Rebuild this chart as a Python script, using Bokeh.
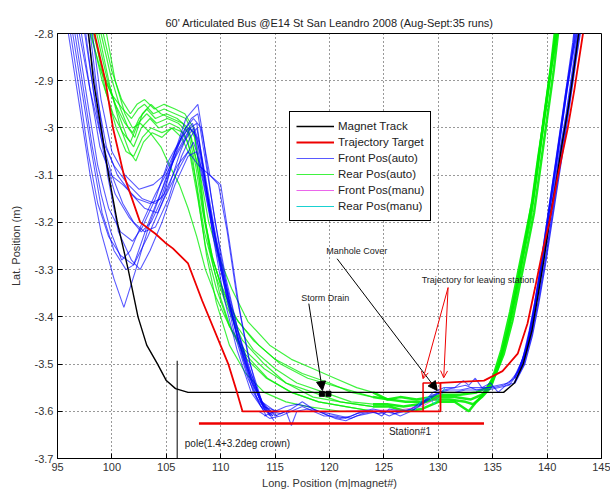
from bokeh.plotting import figure
from bokeh.models import FixedTicker, Label, Arrow, NormalHead, OpenHead, Legend, LegendItem, Range1d
from bokeh.embed import file_html
from bokeh.resources import INLINE

FONT = "Liberation Sans"

# ---------------- axes ----------------
x_ticks = [95, 100, 105, 110, 115, 120, 125, 130, 135, 140, 145]
x_tick_labels = ["95", "100", "105", "110", "115", "120", "125", "130", "135", "140", "145"]
y_ticks = [-3.7, -3.6, -3.5, -3.4, -3.3, -3.2, -3.1, -3.0, -2.9, -2.8]
y_tick_labels = ["-3.7", "-3.6", "-3.5", "-3.4", "-3.3", "-3.2", "-3.1", "-3", "-2.9", "-2.8"]

# ---------------- magnet track / target ----------------
magnet_x = [97.85, 98.3, 99.0, 99.7, 100.5, 101.5, 102.4, 103.2, 104.2, 105.0, 105.85, 107.0, 136.0, 137.0, 137.8, 138.6, 139.2, 139.7, 140.2, 140.8, 141.4, 142.0, 142.5, 142.9]
magnet_y = [-2.8, -2.9, -3.0, -3.1, -3.2, -3.3, -3.4, -3.46, -3.5, -3.535, -3.552, -3.56, -3.56, -3.54, -3.5, -3.43, -3.35, -3.28, -3.2, -3.12, -3.03, -2.95, -2.87, -2.8]

target_x = [98.4, 99.4, 100.1, 101.1, 102.6, 104.0, 104.9, 105.6, 107.0, 108.3, 110.7, 111.5, 112.0, 130.2, 130.2, 134.2, 135.9, 137.3, 138.2, 138.9, 139.5, 140.2, 141.0, 141.9, 142.5, 143.3]
target_y = [-2.8, -2.9, -3.0, -3.1, -3.2, -3.224, -3.243, -3.255, -3.287, -3.366, -3.5, -3.56, -3.6, -3.6, -3.54, -3.535, -3.515, -3.478, -3.414, -3.338, -3.27, -3.2, -3.1, -3.0, -2.92, -2.8]

leave_x = [128.6, 128.6, 130.2]
leave_y = [-3.6, -3.54, -3.54]

station_x = [108.0, 134.2]
station_y = [-3.626, -3.626]

pole_x = [106.0, 106.0]
pole_y = [-3.493, -3.7]

# ---------------- front position (auto) runs ----------------
f1_x = [96.0, 97.0, 98.0, 99.0, 100.2, 101.1, 102.2, 103.5, 104.8, 106.0, 107.2, 107.8, 108.6, 109.5, 110.5, 111.6, 112.8, 113.8, 114.8]
f1_y = [-2.8, -2.95, -3.1, -3.22, -3.32, -3.38, -3.3, -3.2, -3.12, -3.05, -3.0, -3.02, -3.12, -3.23, -3.33, -3.43, -3.52, -3.58, -3.61]
f2_x = [96.4, 97.3, 98.2, 99.1, 100.2, 101.3, 102.0, 103.2, 104.6, 105.8, 107.0, 107.6, 108.4, 109.3, 110.3, 111.4, 112.6, 113.8, 115.0]
f2_y = [-2.8, -2.93, -3.06, -3.18, -3.26, -3.3, -3.29, -3.21, -3.13, -3.05, -3.0, -3.01, -3.11, -3.22, -3.32, -3.42, -3.51, -3.58, -3.6]
f3_x = [96.8, 97.8, 98.7, 99.7, 100.8, 101.9, 102.8, 104.0, 105.2, 106.4, 107.4, 108.0, 108.8, 109.7, 110.7, 111.8, 113.0, 114.2]
f3_y = [-2.8, -2.95, -3.08, -3.17, -3.22, -3.24, -3.21, -3.15, -3.07, -3.02, -2.99, -3.03, -3.14, -3.26, -3.37, -3.47, -3.56, -3.61]
f4_x = [97.2, 98.0, 98.9, 99.9, 101.0, 102.3, 103.5, 104.5, 105.5, 106.5, 107.3, 107.9, 108.6, 109.5, 110.5, 111.7, 112.9, 114.1]
f4_y = [-2.8, -2.92, -3.04, -3.1, -3.12, -3.15, -3.16, -3.15, -3.08, -3.01, -2.98, -2.97, -3.07, -3.2, -3.32, -3.44, -3.54, -3.6]
f5_x = [97.5, 98.3, 99.2, 100.2, 101.5, 102.8, 104.0, 104.8, 105.8, 106.8, 107.9, 108.4, 109.1, 110.0, 111.0, 112.1, 113.3, 114.5]
f5_y = [-2.8, -2.92, -3.03, -3.08, -3.12, -3.15, -3.16, -3.14, -3.05, -2.98, -2.95, -3.02, -3.14, -3.27, -3.39, -3.49, -3.57, -3.61]
f6_x = [97.6, 98.4, 99.3, 100.3, 101.6, 102.7, 103.6, 104.8, 106.0, 107.0, 108.0, 109.0, 109.8, 110.6, 111.5, 112.5, 113.5, 114.6]
f6_y = [-2.8, -2.94, -3.06, -3.14, -3.19, -3.22, -3.2, -3.14, -3.08, -3.05, -3.08, -3.1, -3.12, -3.22, -3.36, -3.48, -3.57, -3.61]
f7_x = [98.0, 98.8, 99.6, 100.6, 101.8, 102.6, 103.5, 104.6, 105.8, 107.0, 107.8, 108.6, 109.5, 110.5, 111.6, 112.8, 114.0, 115.2]
f7_y = [-2.8, -2.95, -3.1, -3.22, -3.28, -3.3, -3.26, -3.2, -3.12, -3.06, -3.05, -3.14, -3.25, -3.35, -3.45, -3.53, -3.59, -3.61]
f8_x = [96.2, 97.0, 97.8, 98.7, 99.7, 100.8, 102.0, 103.3, 104.8, 106.3, 107.5, 108.3, 109.2, 110.2, 111.3, 112.5, 113.7, 114.9]
f8_y = [-2.8, -2.92, -3.05, -3.16, -3.23, -3.27, -3.29, -3.23, -3.15, -3.08, -3.03, -3.09, -3.2, -3.31, -3.42, -3.51, -3.58, -3.62]
f9_x = [97.0, 98.0, 99.0, 100.0, 101.0, 102.0, 103.0, 104.0, 105.2, 106.4, 107.2, 107.8, 108.5, 109.4, 110.4, 111.5, 112.7, 113.9, 115.2]
f9_y = [-2.8, -2.92, -3.02, -3.1, -3.16, -3.2, -3.22, -3.21, -3.15, -3.06, -3.02, -3.0, -3.09, -3.21, -3.33, -3.44, -3.53, -3.59, -3.6]
f10_x = [98.2, 99.0, 100.0, 101.2, 102.5, 103.8, 104.8, 105.8, 106.8, 107.5, 108.2, 109.0, 110.0, 110.8, 111.7, 112.7, 113.8, 115.0]
f10_y = [-2.8, -2.94, -3.05, -3.1, -3.13, -3.12, -3.1, -3.05, -3.0, -2.98, -3.0, -3.1, -3.12, -3.24, -3.38, -3.5, -3.58, -3.61]
f11_x = [96.6, 97.4, 98.2, 99.0, 99.9, 100.9, 101.7, 102.8, 104.0, 105.4, 106.6, 107.5, 108.2, 109.0, 110.0, 111.2, 112.5, 113.7, 114.8]
f11_y = [-2.8, -2.92, -3.04, -3.14, -3.22, -3.28, -3.26, -3.2, -3.14, -3.08, -3.03, -3.0, -3.06, -3.17, -3.3, -3.43, -3.53, -3.59, -3.61]
f12_x = [97.8, 98.6, 99.5, 100.5, 101.8, 103.0, 104.2, 105.3, 106.3, 107.2, 107.8, 108.5, 109.3, 110.3, 111.5, 112.8, 114.0, 115.3]
f12_y = [-2.8, -2.93, -3.04, -3.1, -3.14, -3.17, -3.18, -3.12, -3.05, -3.0, -2.99, -3.1, -3.23, -3.36, -3.47, -3.56, -3.6, -3.6]

fm1_x = [114.0, 115.0, 116.0, 117.0, 118.0, 119.0, 120.0, 121.0, 122.0, 123.0, 124.0, 125.0, 126.0, 127.0, 128.0, 129.0, 130.0, 131.0, 132.0, 133.0, 134.0, 135.0, 136.0, 137.0]
fm1_y = [-3.61, -3.6, -3.59, -3.585, -3.59, -3.6, -3.61, -3.615, -3.61, -3.6, -3.595, -3.6, -3.605, -3.6, -3.59, -3.575, -3.56, -3.555, -3.555, -3.55, -3.55, -3.55, -3.545, -3.53]
fm2_x = [114.5, 115.5, 116.5, 117.5, 118.5, 119.5, 120.5, 121.5, 122.5, 123.5, 124.5, 125.5, 126.5, 127.5, 128.5, 129.5, 130.5, 131.5, 132.5, 133.5, 134.5, 135.5, 136.5, 137.3]
fm2_y = [-3.6, -3.605, -3.595, -3.58, -3.595, -3.605, -3.615, -3.62, -3.61, -3.605, -3.6, -3.61, -3.6, -3.595, -3.58, -3.565, -3.56, -3.56, -3.555, -3.555, -3.555, -3.55, -3.545, -3.52]
fm3_x = [115.0, 116.0, 116.5, 117.0, 118.0, 119.0, 120.0, 121.0, 122.0, 123.0, 124.0, 124.8, 125.5, 126.5, 127.5, 128.5, 129.5, 130.5, 131.5, 132.5, 133.5, 134.5, 135.5, 136.5, 137.5]
fm3_y = [-3.61, -3.6, -3.63, -3.6, -3.595, -3.6, -3.605, -3.61, -3.615, -3.605, -3.6, -3.61, -3.595, -3.6, -3.6, -3.585, -3.57, -3.555, -3.55, -3.545, -3.555, -3.55, -3.545, -3.54, -3.51]
fm4_x = [113.5, 114.5, 115.5, 116.5, 117.5, 118.5, 119.5, 120.5, 121.5, 122.5, 123.5, 124.5, 125.5, 126.5, 127.5, 128.5, 129.5, 130.5, 131.5, 132.3, 132.8, 133.4, 134.0, 134.8, 135.5, 136.2, 137.0]
fm4_y = [-3.6, -3.615, -3.61, -3.6, -3.59, -3.6, -3.61, -3.61, -3.615, -3.605, -3.6, -3.605, -3.6, -3.61, -3.6, -3.585, -3.56, -3.55, -3.55, -3.535, -3.545, -3.53, -3.55, -3.54, -3.56, -3.545, -3.54]

fr1_x = [137.0, 137.8, 138.4, 138.9, 139.4, 139.9, 140.4, 140.9, 141.4, 141.9, 142.4, 142.5]
fr1_y = [-3.53, -3.49, -3.43, -3.37, -3.3, -3.22, -3.14, -3.06, -2.98, -2.9, -2.82, -2.8]
fr2_x = [137.3, 138.1, 138.7, 139.2, 139.7, 140.2, 140.8, 141.3, 141.8, 142.3, 142.7]
fr2_y = [-3.52, -3.47, -3.4, -3.33, -3.25, -3.17, -3.08, -3.0, -2.92, -2.85, -2.8]
fr3_x = [137.5, 138.3, 138.9, 139.5, 140.0, 140.6, 141.2, 141.8, 142.3, 142.8, 142.9]
fr3_y = [-3.51, -3.45, -3.38, -3.3, -3.23, -3.14, -3.05, -2.97, -2.89, -2.81, -2.8]
fr4_x = [137.0, 137.9, 138.6, 139.2, 139.8, 140.4, 141.0, 141.6, 142.1, 142.6, 143.0]
fr4_y = [-3.54, -3.5, -3.44, -3.37, -3.29, -3.2, -3.11, -3.02, -2.94, -2.86, -2.8]

# ---------------- rear position (auto) runs ----------------
r1_x = [98.0, 99.0, 100.0, 101.0, 101.8, 102.4, 103.0, 103.8, 104.8, 105.8, 106.8, 107.6, 108.2, 108.9, 109.8, 111.0, 112.5, 114.5, 116.5, 118.5, 120.5, 122.5, 124.0]
r1_y = [-2.8, -2.88, -2.93, -2.96, -2.98, -2.96, -2.95, -2.97, -2.96, -2.97, -2.98, -3.02, -3.11, -3.2, -3.27, -3.34, -3.41, -3.46, -3.49, -3.51, -3.53, -3.55, -3.56]
r2_x = [98.3, 99.3, 100.3, 101.2, 101.9, 102.5, 103.2, 104.0, 105.0, 106.0, 107.0, 107.8, 108.4, 109.2, 110.2, 111.5, 113.0, 115.0, 117.0, 119.5, 122.0, 124.0]
r2_y = [-2.8, -2.89, -2.95, -2.99, -3.01, -2.98, -2.96, -2.98, -2.97, -2.98, -3.0, -3.07, -3.18, -3.27, -3.35, -3.42, -3.47, -3.51, -3.54, -3.56, -3.58, -3.585]
r3_x = [98.6, 99.6, 100.6, 101.4, 102.0, 102.7, 103.5, 104.3, 105.3, 106.2, 107.0, 107.8, 108.5, 109.5, 110.6, 112.0, 114.0, 116.0, 118.5, 121.0, 124.0]
r3_y = [-2.8, -2.9, -2.97, -3.02, -3.04, -3.0, -2.98, -3.0, -2.99, -3.0, -3.03, -3.12, -3.22, -3.31, -3.38, -3.45, -3.5, -3.54, -3.57, -3.58, -3.59]
r4_x = [98.8, 99.8, 100.8, 101.6, 102.2, 102.9, 103.7, 104.6, 105.5, 106.4, 107.2, 107.9, 108.6, 109.6, 110.8, 112.3, 114.3, 116.5, 119.0, 121.5, 124.0]
r4_y = [-2.8, -2.91, -3.0, -3.05, -3.07, -3.03, -3.01, -3.02, -3.0, -3.02, -3.06, -3.15, -3.25, -3.34, -3.42, -3.48, -3.53, -3.56, -3.58, -3.59, -3.6]
r5_x = [99.2, 100.0, 100.9, 101.7, 102.3, 103.0, 103.9, 104.8, 105.8, 106.7, 107.5, 108.0, 108.6, 109.3, 110.3, 111.6, 113.5, 115.5, 118.0, 121.0, 124.0]
r5_y = [-2.8, -2.88, -2.94, -2.97, -2.95, -2.94, -2.96, -2.95, -2.96, -2.97, -3.0, -3.08, -3.2, -3.28, -3.35, -3.41, -3.46, -3.5, -3.53, -3.55, -3.57]
r6_x = [99.5, 100.3, 101.2, 101.9, 102.6, 103.5, 104.5, 105.3, 106.2, 107.0, 107.8, 108.6, 109.6, 110.8, 112.2, 114.0, 116.0, 118.5, 121.0, 124.0]
r6_y = [-2.8, -2.9, -2.97, -3.0, -2.99, -3.01, -3.04, -3.08, -3.12, -3.17, -3.23, -3.3, -3.36, -3.42, -3.47, -3.51, -3.54, -3.56, -3.58, -3.59]
r7_x = [99.0, 99.9, 100.8, 101.5, 102.1, 102.8, 103.6, 104.5, 105.5, 106.5, 107.3, 108.0, 108.6, 109.2, 110.0, 111.0, 112.4, 114.2, 116.5, 119.0, 121.5, 124.0]
r7_y = [-2.8, -2.89, -2.96, -3.0, -3.02, -2.97, -2.95, -2.97, -2.98, -2.99, -3.02, -3.1, -3.2, -3.28, -3.36, -3.43, -3.49, -3.53, -3.56, -3.58, -3.59, -3.6]
r8_x = [98.4, 99.4, 100.4, 101.3, 102.0, 102.8, 103.6, 104.6, 105.6, 106.6, 107.4, 108.0, 108.7, 109.6, 110.8, 112.3, 114.0, 116.0, 118.0, 121.0, 124.0]
r8_y = [-2.8, -2.92, -3.0, -3.05, -3.06, -3.02, -3.0, -3.01, -3.0, -3.01, -3.06, -3.16, -3.27, -3.37, -3.46, -3.52, -3.56, -3.58, -3.59, -3.6, -3.6]
r9_x = [98.1, 99.1, 100.1, 101.0, 101.7, 102.4, 103.2, 104.1, 105.1, 106.1, 107.0, 107.7, 108.3, 109.0, 110.0, 111.3, 113.0, 115.0, 117.5, 120.0, 122.0, 124.0]
r9_y = [-2.8, -2.9, -2.97, -3.01, -3.03, -2.99, -2.97, -2.99, -2.98, -2.99, -3.01, -3.08, -3.17, -3.26, -3.33, -3.4, -3.45, -3.49, -3.52, -3.54, -3.56, -3.57]

rr1_x = [124.0, 125.3, 126.5, 128.0, 129.3, 130.5, 132.0, 133.5, 134.5, 135.3, 136.0, 136.8, 137.5, 138.2, 138.8, 139.4, 140.0, 140.6, 141.0]
rr1_y = [-3.56, -3.575, -3.57, -3.575, -3.57, -3.565, -3.565, -3.56, -3.55, -3.52, -3.48, -3.41, -3.33, -3.25, -3.18, -3.08, -2.98, -2.88, -2.8]
rr2_x = [124.0, 125.3, 126.8, 128.2, 129.5, 131.0, 132.5, 133.2, 134.0, 134.8, 135.6, 136.4, 137.1, 137.8, 138.5, 139.1, 139.7, 140.3, 140.7]
rr2_y = [-3.585, -3.585, -3.59, -3.585, -3.575, -3.575, -3.58, -3.585, -3.57, -3.55, -3.5, -3.43, -3.35, -3.27, -3.19, -3.09, -2.98, -2.88, -2.8]
rr3_x = [124.0, 125.5, 127.0, 128.5, 130.0, 131.5, 132.8, 133.5, 134.3, 135.0, 135.8, 136.6, 137.3, 138.0, 138.7, 139.3, 139.9, 140.5, 140.8]
rr3_y = [-3.59, -3.59, -3.6, -3.595, -3.58, -3.58, -3.6, -3.58, -3.56, -3.53, -3.47, -3.39, -3.31, -3.23, -3.15, -3.05, -2.95, -2.85, -2.8]
rr4_x = [124.0, 125.5, 127.0, 128.5, 130.0, 131.5, 133.0, 134.0, 134.9, 135.7, 136.5, 137.3, 138.0, 138.6, 139.2, 139.8, 140.4, 140.9]
rr4_y = [-3.57, -3.575, -3.58, -3.58, -3.57, -3.57, -3.575, -3.565, -3.54, -3.49, -3.42, -3.33, -3.24, -3.16, -3.06, -2.97, -2.87, -2.8]

# ---------------- manual runs ----------------
front_manu_x = [121.5, 124.0, 126.5, 128.5, 130.0]
front_manu_y = [-3.6, -3.598, -3.597, -3.59, -3.57]
rear_manu_x = [127.8, 128.5, 129.2, 129.6, 130.3, 130.6]
rear_manu_y = [-3.6, -3.575, -3.57, -3.585, -3.565, -3.55]

# ---------------- annotations ----------------
drain_marks_x = [119.3, 119.9]
drain_marks_y = [-3.563, -3.563]
storm_text_xy = (119.6, -3.361)
storm_arrow = (118.1, -3.372, 119.35, -3.556)
manhole_text_xy = (122.5, -3.26)
manhole_arrow = (120.7, -3.277, 129.9, -3.556)
leave_text_xy = (133.65, -3.323)
leave_arrows = [(130.9, -3.338, 128.6, -3.531), (130.9, -3.338, 130.5, -3.529)]
station_text_xy = (127.4, -3.643)
pole_text_xy = (106.7, -3.669)

# ======================================================
p = figure(width=610, height=492, x_range=Range1d(95, 145), y_range=Range1d(-3.7, -2.8),
           output_backend="svg", toolbar_location=None,
           min_border_left=57, min_border_right=9, min_border_top=33, min_border_bottom=34)
p.background_fill_color = "white"
p.border_fill_color = "white"
p.outline_line_color = "black"
p.outline_line_alpha = 1.0
p.outline_line_width = 1

p.title.text = "60' Articulated Bus @E14 St San Leandro 2008 (Aug-Sept:35 runs)"
p.title.align = "center"
p.title.text_font = FONT
p.title.text_font_size = "11px"
p.title.text_font_style = "normal"
p.title.text_color = "#222222"
p.title.standoff = 10

p.xaxis.ticker = FixedTicker(ticks=x_ticks)
p.xaxis.major_label_overrides = dict(zip(x_ticks, x_tick_labels))
p.yaxis.ticker = FixedTicker(ticks=y_ticks)
p.yaxis.major_label_overrides = dict(zip(y_ticks, y_tick_labels))
for ax in (p.xaxis[0], p.yaxis[0]):
    ax.major_tick_in = 5
    ax.major_tick_out = 0
    ax.minor_tick_line_color = None
    ax.axis_line_color = "black"
    ax.major_tick_line_color = "black"
    ax.major_label_text_font = FONT
    ax.major_label_text_font_size = "11px"
    ax.major_label_text_color = "#333333"
    ax.axis_label_text_font = FONT
    ax.axis_label_text_font_size = "11px"
    ax.axis_label_text_font_style = "normal"
    ax.axis_label_text_color = "#333333"
    ax.major_label_standoff = 4
p.xaxis.axis_label = "Long. Position (m|magnet#)"
p.yaxis.axis_label = "Lat. Position (m)"
p.xaxis.axis_label_standoff = 3
p.yaxis.axis_label_standoff = 10

p.xgrid.ticker = FixedTicker(ticks=x_ticks)
p.ygrid.ticker = FixedTicker(ticks=y_ticks)
for g in (p.xgrid[0], p.ygrid[0]):
    g.grid_line_color = "black"
    g.grid_line_dash = "1 3"
    g.grid_line_alpha = 0.8
    g.grid_line_width = 1

rear_xs = [r1_x, r2_x, r3_x, r4_x, r5_x, r6_x, r7_x, r8_x, r9_x]
rear_ys = [r1_y, r2_y, r3_y, r4_y, r5_y, r6_y, r7_y, r8_y, r9_y]
rear_r = p.multi_line(rear_xs, rear_ys, line_color="#00ee00", line_width=1.2, line_alpha=0.75)
p.multi_line([rr1_x, rr2_x, rr3_x, rr4_x], [rr1_y, rr2_y, rr3_y, rr4_y],
             line_color="#00ee00", line_width=2.5, line_alpha=0.9)

front_xs = [f1_x, f2_x, f3_x, f4_x, f5_x, f6_x, f7_x, f8_x, f9_x, f10_x, f11_x, f12_x, fm1_x, fm2_x, fm3_x, fm4_x]
front_ys = [f1_y, f2_y, f3_y, f4_y, f5_y, f6_y, f7_y, f8_y, f9_y, f10_y, f11_y, f12_y, fm1_y, fm2_y, fm3_y, fm4_y]
front_r = p.multi_line(front_xs, front_ys, line_color="#0000ff", line_width=1.1, line_alpha=0.65)
p.multi_line([fr1_x, fr2_x, fr3_x, fr4_x], [fr1_y, fr2_y, fr3_y, fr4_y],
             line_color="#0000ff", line_width=2.2, line_alpha=0.8)

fman_r = p.line(front_manu_x, front_manu_y, line_color="#dd00dd", line_width=1, line_alpha=0.6)
rman_r = p.line(rear_manu_x, rear_manu_y, line_color="#00cccc", line_width=1, line_alpha=0.9)

magnet_r = p.line(magnet_x, magnet_y, line_color="black", line_width=1.4)
target_r = p.line(target_x, target_y, line_color="#ee0000", line_width=1.8)
p.line(leave_x, leave_y, line_color="#ee0000", line_width=1.5)
p.line(station_x, station_y, line_color="#ee0000", line_width=2.5)
p.line(pole_x, pole_y, line_color="black", line_width=1)
p.scatter(drain_marks_x, drain_marks_y, marker="square", size=5, color="black")

# annotations
def add_label(xy, txt, size="9px", align="center"):
    p.add_layout(Label(x=xy[0], y=xy[1], text=txt, text_font=FONT, text_font_size=size,
                       text_align=align, text_baseline="middle", text_color="#222222"))

add_label(storm_text_xy, "Storm Drain")
add_label(manhole_text_xy, "Manhole Cover")
add_label(leave_text_xy, "Trajectory for leaving station")
add_label(station_text_xy, "Station#1", size="10px")
add_label(pole_text_xy, "pole(1.4+3.2deg crown)", size="10px", align="left")

for a in (storm_arrow, manhole_arrow):
    p.add_layout(Arrow(end=NormalHead(size=9, fill_color="black", line_color="black"),
                       x_start=a[0], y_start=a[1], x_end=a[2], y_end=a[3],
                       line_color="black", line_width=1))
for a in leave_arrows:
    p.add_layout(Arrow(end=OpenHead(size=7, line_color="#ee0000", line_width=1),
                       x_start=a[0], y_start=a[1], x_end=a[2], y_end=a[3],
                       line_color="#ee0000", line_width=1))

legend = Legend(items=[
    LegendItem(label="Magnet Track", renderers=[magnet_r]),
    LegendItem(label="Trajectory Target", renderers=[target_r]),
    LegendItem(label="Front Pos(auto)", renderers=[front_r]),
    LegendItem(label="Rear Pos(auto)", renderers=[rear_r]),
    LegendItem(label="Front Pos(manu)", renderers=[fman_r]),
    LegendItem(label="Rear Pos(manu)", renderers=[rman_r]),
], location=(232, 237))
legend.border_line_color = "black"
legend.border_line_width = 1
legend.border_line_alpha = 1
legend.background_fill_alpha = 1
legend.label_text_font = FONT
legend.label_text_font_size = "11.5px"
legend.label_text_color = "#222222"
legend.glyph_width = 38
legend.glyph_height = 16
legend.label_height = 16
legend.spacing = 0
legend.padding = 6
legend.margin = 0
legend.label_standoff = 4
p.add_layout(legend)

open("out.html", "w").write(file_html(p, INLINE))
